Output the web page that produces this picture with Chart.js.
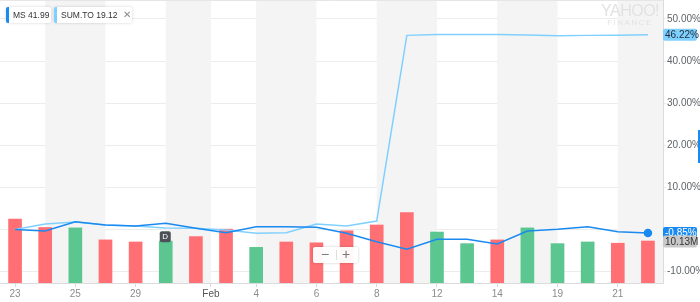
<!DOCTYPE html>
<html>
<head>
<meta charset="utf-8">
<script src="https://cdn.jsdelivr.net/npm/chart.js@4"></script>
<style>
  body { margin: 0; background: #fff; font-family: "Liberation Sans", Arial, sans-serif; }
  .wrap { position: relative; width: 700px; height: 302px; }
  .leg { position: absolute; top: 7px; height: 16px; line-height: 16px; background: #fff;
         box-shadow: 0 0 3px rgba(0,0,0,0.18); border-radius: 2px; font-size: 8.5px; color: #333;
         box-sizing: border-box; padding-left: 4px; white-space: nowrap; }
  .leg .x { position: absolute; left: 66px; color: #888; font-size: 10px; }
  .wm { position: absolute; left: 598px; top: 3px; width: 64px; text-align: center; color: #e2e2e2; }
  .wm .a { font-size: 16px; letter-spacing: -0.5px; line-height: 15px; }
  .wm .b { font-size: 8px; letter-spacing: 1.5px; line-height: 10px; }
  .zoom { position: absolute; left: 313px; top: 247px; width: 45px; height: 16px; background: rgba(255,255,255,0.95);
          box-shadow: 0 0 3px rgba(0,0,0,0.2); border-radius: 2px; font-size: 14px; color: #777; line-height: 16px; }
  .zoom span { position: absolute; top: -1px; }
  .zoom i { position: absolute; left: 23px; top: 3px; width: 1px; height: 10px; background: #ddd; }
</style>
</head>
<body>
<div class="wrap">
  <canvas id="stockChart" width="700" height="302"></canvas>
  <div class="leg" style="left:6px;width:45px;border-left:3px solid #1a8af0;">MS 41.99</div>
  <div class="leg" style="left:54px;width:78px;border-left:3px solid #80d0ff;">SUM.TO 19.12<span class="x">✕</span></div>
  <div class="wm"><div class="a">YAHOO!</div><div class="b">FINANCE</div></div>
  <div class="zoom"><span style="left:8px;">−</span><i></i><span style="left:29px;">+</span></div>
  <div style="position:absolute;left:698px;top:130px;width:2px;height:33px;background:#1a8af0;"></div>
</div>
<script>
// 日期 (每個交易日一根)
const dates = ['Jan 23', 'Jan 24', 'Jan 25', 'Jan 28', 'Jan 29', 'Jan 30', 'Jan 31', 'Feb 1',
    'Feb 4', 'Feb 5', 'Feb 6', 'Feb 7', 'Feb 8', 'Feb 11', 'Feb 12', 'Feb 13', 'Feb 14',
    'Feb 15', 'Feb 19', 'Feb 20', 'Feb 21', 'Feb 22'];

// 漲跌幅 (%)
const msChange = [0, -0.35, 1.85, 1.07, 0.83, 1.47, 0.28, -0.76, 0.66, 0.66, 0.52, -0.9,
    -2.89, -4.69, -2.32, -2.32, -3.44, -0.36, 0.05, 0.66, -0.52, -0.85];
const sumChange = [0, 1.3, 1.8, 1.07, 0.83, 0.36, 0.28, -0.12, -0.9, -0.76, 1.3, 0.83,
    2.0, 46.1, 46.3, 46.3, 46.3, 46.2, 46.0, 46.1, 46.15, 46.22];

// 成交量 (M) 和 漲/跌
const volume = [15.4, 13.4, 13.3, 10.4, 9.9, 10.1, 11.2, 13.0, 8.6, 9.9, 9.7, 12.6,
    14.0, 17.0, 12.3, 9.5, 10.4, 13.3, 9.5, 9.9, 9.6, 10.13];
const volUp = [false, false, true, false, false, true, false, false, true, false, false, false,
    false, false, true, true, false, true, true, true, false, false];

// x 軸標籤
const xTickPos = [0, 2, 4, 6.5, 8, 10, 12, 14, 16, 18, 20];
const xTickText = ['23', '25', '29', 'Feb', '4', '6', '8', '12', '14', '19', '21'];
const yTicks = [-10, 0, 10, 20, 30, 40, 50];

// 灰色背景區塊 (index 範圍)
const bands = [[1, 3], [5, 6.5], [8, 10], [12, 14], [16, 18], [20, 21.5]];
const dividendIdx = 5;

const RED = '#ff6f74';
const GREEN = '#5bc68f';
const MS_BLUE = '#1a8af0';
const SUM_BLUE = '#80d0ff';

const bgPlugin = {
    id: 'bands',
    beforeDatasetsDraw(chart) {
        const { ctx, chartArea: a, scales: { x } } = chart;
        ctx.save();
        ctx.fillStyle = '#f4f4f4';
        bands.forEach(([s, e]) => {
            const x0 = x.getPixelForValue(s);
            const x1 = x.getPixelForValue(e);
            ctx.fillRect(x0, a.top, x1 - x0, a.bottom - a.top);
        });
        ctx.restore();
    },
    afterDraw(chart) {
        const { ctx, chartArea: a, scales: { x, y, vol } } = chart;
        ctx.save();
        // top line
        ctx.strokeStyle = '#e6e6e6';
        ctx.beginPath();
        ctx.moveTo(0, 0.5);
        ctx.lineTo(a.right, 0.5);
        ctx.stroke();

        // D 標記
        const dx = x.getPixelForValue(dividendIdx);
        const dy = vol.getPixelForValue(volume[dividendIdx]);
        ctx.fillStyle = '#4b5157';
        ctx.beginPath();
        ctx.roundRect(dx - 6, dy - 10, 11, 11, 2);
        ctx.fill();
        ctx.fillStyle = '#fff';
        ctx.font = '8px "Liberation Sans", Arial';
        ctx.textAlign = 'center';
        ctx.textBaseline = 'middle';
        ctx.fillText('D', dx - 0.5, dy - 4.5);

        // 右邊的標籤
        const badge = (val, yy, bg, fg) => {
            ctx.fillStyle = bg;
            ctx.beginPath();
            ctx.roundRect(a.right, yy - 6, 34, 12, 2);
            ctx.fill();
            ctx.fillStyle = fg;
            ctx.font = '10px "Liberation Sans", Arial';
            ctx.textAlign = 'left';
            ctx.fillText(val, a.right + 2, yy + 0.5);
        };
        const last = dates.length - 1;
        badge(sumChange[last].toFixed(2) + '%', y.getPixelForValue(sumChange[last]), SUM_BLUE, '#1b2b3a');
        badge(msChange[last].toFixed(2) + '%', y.getPixelForValue(msChange[last]), MS_BLUE, '#fff');
        badge(volume[last].toFixed(2) + 'M', vol.getPixelForValue(volume[last]) + 0.5, '#c9c9c9', '#333');
        ctx.restore();
    }
};

const pts = arr => arr.map((v, i) => ({ x: i, y: v }));

new Chart(document.getElementById('stockChart'), {
    type: 'bar',
    data: {
        datasets: [{
            type: 'line',
            label: 'MS',
            data: pts(msChange),
            yAxisID: 'y',
            borderColor: MS_BLUE,
            backgroundColor: MS_BLUE,
            borderWidth: 1.5,
            tension: 0,
            pointRadius: msChange.map((v, i) => i === msChange.length - 1 ? 3.5 : 0),
            order: 1
        }, {
            type: 'line',
            label: 'SUM.TO',
            data: pts(sumChange),
            yAxisID: 'y',
            borderColor: SUM_BLUE,
            borderWidth: 1.5,
            tension: 0,
            pointRadius: 0,
            order: 2
        }, {
            label: 'Volume',
            data: pts(volume),
            yAxisID: 'vol',
            backgroundColor: volUp.map(u => u ? GREEN : RED),
            barThickness: 13,
            order: 3
        }]
    },
    options: {
        responsive: false,
        animation: false,
        layout: { padding: 0, autoPadding: false },
        plugins: { legend: { display: false }, tooltip: { enabled: false } },
        scales: {
            x: {
                type: 'linear',
                offset: false,
                min: -0.5,
                max: 21.5,
                afterBuildTicks: s => { s.ticks = xTickPos.map(v => ({ value: v })); },
                afterFit: s => { s.height = 19; s.paddingLeft = 0; s.paddingRight = 0; },
                grid: { drawOnChartArea: false, tickLength: 4, color: '#d8d8d8', offset: false },
                border: { color: '#dcdcdc' },
                ticks: {
                    padding: 1,
                    autoSkip: false,
                    maxRotation: 0,
                    font: { size: 10, family: '"Liberation Sans", Arial' },
                    color: c => (c.tick && c.tick.value === 6.5) ? '#555' : '#8c8c8c',
                    callback: v => xTickText[xTickPos.indexOf(v)] ?? ''
                }
            },
            y: {
                position: 'right',
                min: -12.7,
                max: 54.5,
                afterBuildTicks: s => { s.ticks = yTicks.map(v => ({ value: v })); },
                afterFit: s => { s.width = 37; s.paddingTop = 0; s.paddingBottom = 0; },
                grid: { color: '#ececec', tickLength: 3 },
                border: { color: '#dcdcdc' },
                ticks: {
                    padding: 1,
                    font: { size: 10, family: '"Liberation Sans", Arial' },
                    color: '#5f6468',
                    // 0% 被標籤蓋住
                    callback: v => v === 0 ? '' : v.toFixed(2) + '%'
                }
            },
            vol: {
                display: false,
                min: 0,
                max: 68.3
            }
        }
    },
    plugins: [bgPlugin]
});
</script>
</body>
</html>
